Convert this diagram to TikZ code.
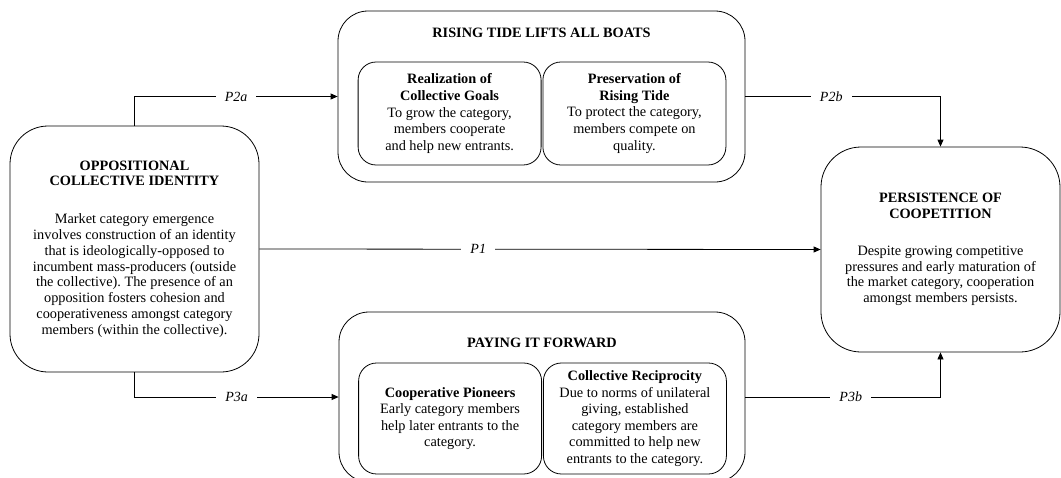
\documentclass[tikz,border=0pt]{standalone}
\usepackage{fontspec}
\setmainfont{Liberation Serif}
\usetikzlibrary{arrows.meta, positioning}
\tikzset{
  every picture/.style={line width=0.8pt},
  box/.style={draw, rounded corners=#1, align=center, inner sep=0pt,
    font=\fontsize{14.3}{15.8}\selectfont},
  box/.default=38pt,
  inner/.style={draw, rounded corners=18pt, align=center, inner sep=0pt,
    minimum width=183pt, font=\fontsize{14.3}{16.6}\selectfont},
  head/.style={font=\fontsize{14.3}{16}\selectfont\bfseries, inner sep=0pt},
  arrow/.style={-{Triangle[length=7pt, width=6pt]}},
  lbl/.style={fill=white, font=\fontsize{14}{15}\selectfont\itshape, inner xsep=9pt},
}

\begin{document}
\begin{tikzpicture}[x=1pt, y=-1pt]
  \useasboundingbox (0,0) rectangle (1061,477);
  % identity on the left, outcome on the right
  \node[box, minimum width=249pt, minimum height=246pt] (ident) at (134.5,249)
    {\textbf{OPPOSITIONAL}\\\textbf{COLLECTIVE IDENTITY}\\[22pt]
     Market category emergence\\involves construction of an identity\\
     that is ideologically-opposed\ to\\incumbent mass-producers (outside\\
     the collective).\ The presence of an\\opposition fosters cohesion and\\
     cooperativeness\ amongst category\\members (within the collective).};
  \node[box=40pt, minimum width=239pt, minimum height=205pt] (persist) at (940.5,249.5)
    {\textbf{PERSISTENCE OF}\\\textbf{COOPETITION}\\[21pt]
     Despite growing competitive\\pressures and early maturation of\\
     the market category, cooperation\\amongst members persists.};
  % rising tide
  \node[box=30pt, minimum width=407pt, minimum height=171pt] (tide) at (541.5,96.5) {};
  \node[head, below=17pt of tide.north] (tidehead) {RISING TIDE LIFTS ALL BOATS};
  \node[inner, minimum height=103pt, below left=51pt and 0pt of tide.north] (goals)
    {\textbf{Realization of}\\\textbf{Collective Goals}\\To grow the category,\\
     members cooperate\\and help new entrants.};
  \node[inner, minimum height=103pt, right=1pt of goals] (preserve)
    {\textbf{Preservation of}\\\textbf{Rising Tide}\\To protect the category,\\
     members compete on\\quality.};
  % paying it forward
  \node[box=30pt, minimum width=406pt, minimum height=170pt] (forward) at (542,397) {};
  \node[head, below=26pt of forward.north] (fwdhead) {PAYING IT FORWARD};
  \node[inner, minimum height=111pt, below left=51pt and 0pt of forward.north] (pioneers)
    {\textbf{Cooperative Pioneers}\\Early category members\\help later entrants to the\\
     category.};
  \node[inner, minimum height=111pt, right=1pt of pioneers] (recip)
    {\textbf{Collective Reciprocity}\\Due to norms of unilateral\\giving, established\\
     category members are\\committed to help new\\entrants to the category.};
  % propositions
  \draw[arrow] (ident.north) |- node[lbl, pos=0.75] {P2a} (tide.west);
  \draw[arrow] (ident.south) |- node[lbl, pos=0.75] {P3a} (forward.west);
  \draw[arrow] (ident.east) -- node[lbl, pos=0.39] {P1} (persist.west);
  \draw[arrow] (tide.east) -| node[lbl, pos=0.22] {P2b} (persist.north);
  \draw[arrow] (forward.east) -| node[lbl, pos=0.27] {P3b} (persist.south);
\end{tikzpicture}
\end{document}
